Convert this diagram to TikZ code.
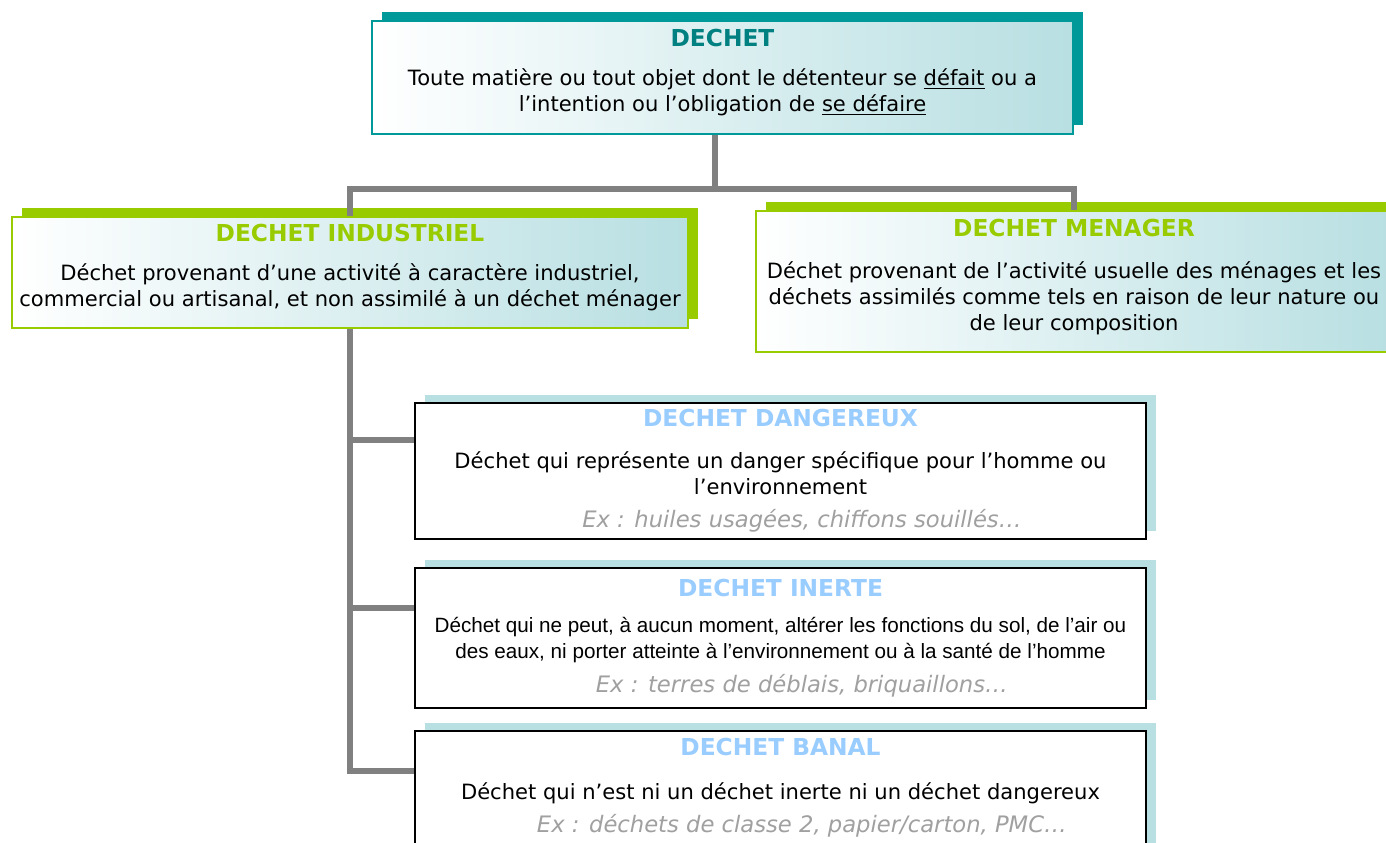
\documentclass[tikz,border=0pt]{standalone}
\usepackage{fontspec}
\setmainfont{DejaVu Sans}
\newfontfamily\arialfont{Liberation Sans}
\usetikzlibrary{positioning,shadows}

\definecolor{dtteal}{RGB}{0,153,153}
\definecolor{dttitle}{RGB}{0,128,128}
\definecolor{dtgreen}{RGB}{153,204,0}
\definecolor{dtblue}{RGB}{153,204,255}
\definecolor{dttint}{RGB}{184,223,226}
\definecolor{dtline}{RGB}{128,128,128}
\definecolor{dtex}{RGB}{160,160,160}

\tikzset{
  box/.style={rectangle, align=center, inner sep=0pt, font=\fontsize{15.8}{19.5}\selectfont},
  tealbox/.style={box, draw=dtteal, line width=1.5pt, left color=white, middle color=white!70!dttint, right color=dttint,
    general shadow={fill=dtteal, shadow xshift=7.5pt, shadow yshift=6.5pt}},
  greenbox/.style={box, draw=dtgreen, line width=1.1pt, left color=white, middle color=white!70!dttint, right color=dttint,
    general shadow={fill=dtgreen, shadow xshift=7.5pt, shadow yshift=6.5pt}},
  plainbox/.style={box, draw=black, line width=1.5pt, fill=white,
    general shadow={fill=dttint, shadow xshift=7.5pt, shadow yshift=6pt}},
  conn/.style={draw=dtline, line width=4.1pt}
}
\newcommand{\dtitle}[2]{\textcolor{#1}{\bfseries\fontsize{17.5}{19.5}\selectfont #2}}
\newcommand{\dex}[1]{\hspace*{32pt}\textcolor{dtex}{\itshape\fontsize{17}{19.5}\selectfont #1}}

\begin{document}
\begin{tikzpicture}[x=0.75pt,y=-0.75pt]
\useasboundingbox (0,0) rectangle (1386,843);

% main definition
\node[tealbox, minimum width=525.75pt, minimum height=84.75pt] (dechet) at (722.5,77.5)
  {\dtitle{dttitle}{DECHET}\\[10pt]
   Toute matière ou tout objet dont le détenteur se \underline{défait} ou a\\
   l’intention ou l’obligation de \underline{se défaire}\\[-8.75pt]};

% two families
\node[greenbox, minimum width=507pt, minimum height=83.25pt] (indus) at (350,272.5)
  {\dtitle{dtgreen}{DECHET INDUSTRIEL}\\[10pt]
   Déchet provenant d’une activité à caractère industriel,\\
   commercial ou artisanal, et non assimilé à un déchet ménager\\[-8.75pt]};
\node[greenbox, minimum width=477pt, minimum height=105.75pt] (menag) at (1074,281.5)
  {\dtitle{dtgreen}{DECHET MENAGER}\\[12pt]
   Déchet provenant de l’activité usuelle des ménages et les\\
   déchets assimilés comme tels en raison de leur nature ou\\
   de leur composition\\[-9.5pt]};

% industrial waste kinds
\node[plainbox, minimum width=548.25pt, minimum height=102pt] (dang) at (780.5,471)
  {\dtitle{dtblue}{DECHET DANGEREUX}\\[12pt]
   Déchet qui représente un danger spécifique pour l’homme ou\\
   l’environnement\\[5pt]
   \dex{Ex : huiles usagées, chiffons souillés…}};
\node[plainbox, minimum width=548.25pt, minimum height=105pt] (inerte) at (780.5,638)
  {\dtitle{dtblue}{DECHET INERTE}\\[8pt]
   {\arialfont\fontsize{15.5}{19.5}\selectfont Déchet qui ne peut, à aucun moment, altérer les fonctions du sol, de l’air ou}\\
   {\arialfont\fontsize{15.5}{19.5}\selectfont des eaux, ni porter atteinte à l’environnement ou à la santé de l’homme}\\[6pt]
   \dex{Ex : terres de déblais, briquaillons…}};
\node[plainbox, minimum width=548.25pt, minimum height=102.75pt] (banal) at (780.5,799.5)
  {\dtitle{dtblue}{DECHET BANAL}\\[13.5pt]
   Déchet qui n’est ni un déchet inerte ni un déchet dangereux\\[5pt]
   \dex{Ex : déchets de classe 2, papier/carton, PMC…}\\[1.5pt]};

% connectors
\coordinate (hub) at (715,189);
\draw[conn] (dechet.south -| hub) -- (hub);
\draw[conn] (indus.north) |- (hub) -| (menag.north);
\coordinate (dangarm) at ([yshift=-28.5pt]dang.north west);
\coordinate (inertearm) at ([yshift=-30.75pt]inerte.north west);
\coordinate (banalarm) at ([yshift=-30.75pt]banal.north west);
\draw[conn] (indus.south) |- (banalarm);
\draw[conn] (indus.south |- dangarm) -- (dangarm);
\draw[conn] (indus.south |- inertearm) -- (inertearm);
\end{tikzpicture}
\end{document}
